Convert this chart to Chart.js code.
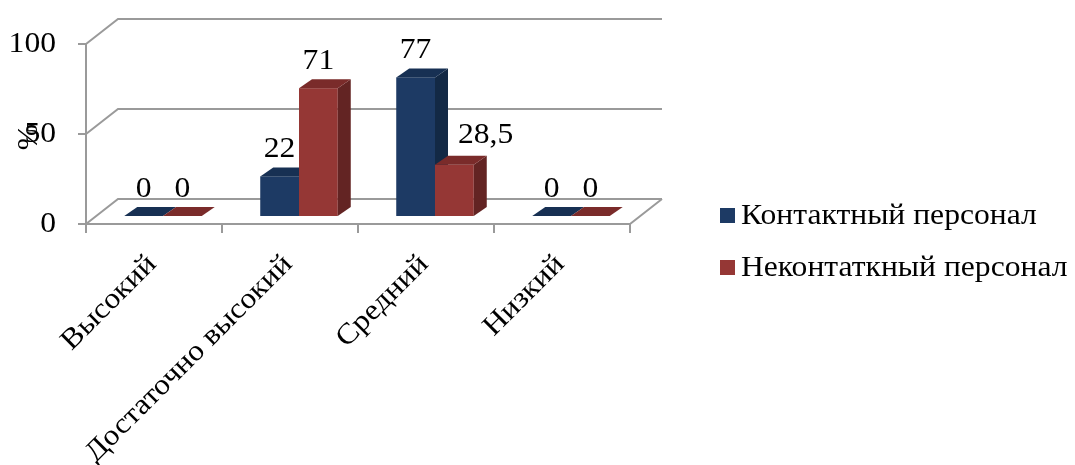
<!doctype html>
<html lang="ru">
<head>
<meta charset="utf-8">
<title>Уровень</title>
<script src="https://cdn.jsdelivr.net/npm/chart.js@4.4.1/dist/chart.umd.min.js"></script>
<style>
  html, body { margin: 0; padding: 0; background: #fff; }
  #chart { display: block; }
</style>
</head>
<body>
<canvas id="chart" width="1075" height="465"></canvas>
<script>
const categories = ['Высокий', 'Достаточно высокий', 'Средний', 'Низкий'];
const seriesNames = ['Контактный персонал', 'Неконтаткный персонал'];
const contactValues = [0, 22, 77, 0];
const noncontactValues = [0, 71, 28.5, 0];
const yTicks = [0, 50, 100];

const FONT = '"Liberation Serif", "Times New Roman", serif';
const GRID = '#9a9a9a';
const TEXT_SX = 1.09; // text is set slightly wide

// front / side / top colours of each series
const faces = [
  { front: '#1d3a64', side: '#132945', top: '#173053' },
  { front: '#953735', side: '#632423', top: '#7a2b2a' }
];

// depth of the walls and of the bars
const WALL_DX = 32, WALL_DY = 25;
const BAR_DX = 13, BAR_DY = 9;
const SHIFT_X = 9, SHIFT_Y = 8;

function fmt(v) {
  return String(v).replace('.', ',');
}

// widened text, stretched along its own direction
function text(ctx, str, x, y, angle) {
  ctx.save();
  ctx.translate(x, y);
  if (angle) ctx.rotate(angle);
  ctx.scale(TEXT_SX, 1);
  ctx.fillText(str, 0, 0);
  ctx.restore();
}

const box3d = {
  id: 'box3d',
  beforeDatasetsDraw(chart) {
    const ctx = chart.ctx;
    const xs = chart.scales.x, ys = chart.scales.y;
    const L = xs.left, R = xs.right;
    const n = categories.length;

    ctx.save();
    ctx.strokeStyle = GRID;
    ctx.lineWidth = 2;

    // back wall gridlines
    yTicks.forEach(v => {
      const y = ys.getPixelForValue(v);
      ctx.beginPath();
      ctx.moveTo(L, y);
      ctx.lineTo(L + WALL_DX, y - WALL_DY);
      ctx.lineTo(R + WALL_DX, y - WALL_DY);
      ctx.stroke();
    });

    // floor front edge
    const y0 = ys.getPixelForValue(0);
    ctx.beginPath();
    ctx.moveTo(L, y0);
    ctx.lineTo(R, y0);
    ctx.lineTo(R + WALL_DX, y0 - WALL_DY);
    ctx.stroke();

    // value axis, its ticks and the category ticks
    ctx.beginPath();
    ctx.moveTo(L, ys.getPixelForValue(100));
    ctx.lineTo(L, y0);
    yTicks.forEach(v => {
      const y = ys.getPixelForValue(v);
      ctx.moveTo(L - 8, y);
      ctx.lineTo(L, y);
    });
    for (let k = 0; k <= n; k++) {
      const x = L + (R - L) * k / n;
      ctx.moveTo(x, y0);
      ctx.lineTo(x, y0 + 9);
    }
    ctx.stroke();

    // bars: front, side, top
    const boxes = chart.data.datasets.map(() => []);
    for (let i = 0; i < n; i++) {
      chart.data.datasets.forEach((ds, d) => {
        const el = chart.getDatasetMeta(d).data[i];
        const c = faces[d];
        const x0 = el.x - el.width / 2 + SHIFT_X;
        const x1 = x0 + el.width;
        const top = el.y - SHIFT_Y;
        const bot = el.base - SHIFT_Y;
        boxes[d][i] = { x0, x1, top };

        ctx.fillStyle = c.front;
        ctx.fillRect(x0, top, x1 - x0, bot - top);

        ctx.fillStyle = c.side;
        ctx.beginPath();
        ctx.moveTo(x1, bot);
        ctx.lineTo(x1 + BAR_DX, bot - BAR_DY);
        ctx.lineTo(x1 + BAR_DX, top - BAR_DY);
        ctx.lineTo(x1, top);
        ctx.closePath();
        ctx.fill();

        ctx.fillStyle = c.top;
        ctx.beginPath();
        ctx.moveTo(x0, top);
        ctx.lineTo(x0 + BAR_DX, top - BAR_DY);
        ctx.lineTo(x1 + BAR_DX, top - BAR_DY);
        ctx.lineTo(x1, top);
        ctx.closePath();
        ctx.fill();
      });
    }

    ctx.fillStyle = '#000';
    ctx.font = '29px ' + FONT;

    // value labels; a label that would run into a taller neighbour moves right
    ctx.textAlign = 'left';
    ctx.textBaseline = 'alphabetic';
    chart.data.datasets.forEach((ds, d) => {
      ds.data.forEach((v, i) => {
        const b = boxes[d][i];
        const s = fmt(v);
        const w = ctx.measureText(s).width * TEXT_SX;
        let lx = (b.x0 + b.x1) / 2 - w / 2;
        let by = b.top - BAR_DY - 10;
        const prev = d > 0 ? boxes[d - 1][i] : null;
        if (prev && prev.top < b.top && lx < prev.x1 + BAR_DX + 10) {
          lx = prev.x1 + BAR_DX + 10;
          by -= 3;
        }
        text(ctx, s, lx, by);
      });
    });

    // value tick labels
    ctx.textAlign = 'right';
    ctx.textBaseline = 'middle';
    yTicks.forEach(v => text(ctx, String(v), L - 30, ys.getPixelForValue(v)));

    // axis title
    ctx.textAlign = 'center';
    text(ctx, '%', 29, ys.getPixelForValue(50) + 3, -Math.PI / 2);

    // category labels, rotated
    ctx.textAlign = 'right';
    categories.forEach((lab, i) => {
      text(ctx, lab, xs.getPixelForValue(i) - 2, y0 + 36, -Math.PI / 4);
    });

    // legend
    ctx.textAlign = 'left';
    chart.data.datasets.forEach((ds, d) => {
      const ly = 216 + d * 52;
      ctx.fillStyle = faces[d].front;
      ctx.fillRect(720, ly - 8, 15, 15);
      ctx.fillStyle = '#000';
      text(ctx, ds.label, 741, ly);
    });

    ctx.restore();
    return false;
  }
};

new Chart(document.getElementById('chart'), {
  type: 'bar',
  data: {
    labels: categories,
    datasets: [
      { label: seriesNames[0], data: contactValues, backgroundColor: faces[0].front },
      { label: seriesNames[1], data: noncontactValues, backgroundColor: faces[1].front }
    ]
  },
  options: {
    responsive: false,
    animation: false,
    layout: { padding: { left: 86, top: 44, right: 445, bottom: 241 } },
    datasets: { bar: { categoryPercentage: 0.57, barPercentage: 1 } },
    scales: {
      x: { display: false },
      y: { display: false, min: 0, max: 100 }
    },
    plugins: { legend: { display: false }, tooltip: { enabled: false } }
  },
  plugins: [box3d]
});
</script>
</body>
</html>
